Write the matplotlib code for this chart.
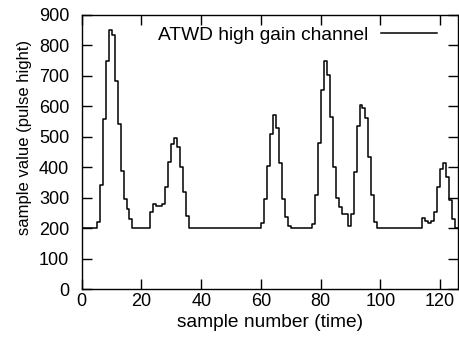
import matplotlib
matplotlib.use("Agg")
import matplotlib.pyplot as plt

plt.rcParams['font.family'] = ['Liberation Sans', 'DejaVu Sans']

# ATWD Samples (Wert pro Sample-Nummer)
sample_values = [
    200, 200, 200, 200, 200, 220, 342, 560, 750, 850,
    834, 684, 541, 389, 295, 262, 230, 200, 200, 200,
    200, 200, 200, 254, 280, 273, 272, 280, 335, 418,
    476, 496, 467, 400, 320, 240, 200, 200, 200, 200,
    200, 200, 200, 200, 200, 200, 200, 200, 200, 200,
    200, 200, 200, 200, 200, 200, 200, 200, 200, 200,
    216, 295, 404, 509, 571, 530, 413, 295, 238, 207,
    200, 200, 200, 200, 200, 200, 200, 214, 309, 481,
    653, 750, 703, 566, 402, 298, 269, 247, 247, 208,
    247, 386, 536, 605, 593, 561, 433, 309, 222, 200,
    200, 200, 200, 200, 200, 200, 200, 200, 200, 200,
    200, 200, 200, 200, 233, 225, 216, 225, 254, 334,
    394, 413, 369, 293, 229, 200, 200, 200,
]
sample_numbers = list(range(len(sample_values)))

x_ticks = [0, 20, 40, 60, 80, 100, 120]
y_ticks = [0, 100, 200, 300, 400, 500, 600, 700, 800, 900]

fig = plt.figure(figsize=(4.59, 3.38), dpi=100)
ax = fig.add_axes([0.178, 0.144, 0.820, 0.812])

ax.step(sample_numbers, sample_values, where='post', color='black', lw=1.1,
        label='ATWD high gain channel')

ax.set_xlim(0, 126)
ax.set_ylim(0, 900)
ax.set_xticks(x_ticks)
ax.set_yticks(y_ticks)
ax.tick_params(direction='in', length=7, width=1, top=True, right=True,
               labelsize=13)
ax.tick_params(axis='x', pad=2.7)
ax.tick_params(axis='y', pad=9)
for s in ax.spines.values():
    s.set_linewidth(1)

ax.set_xlabel("sample number (time)", fontsize=13.8, labelpad=3)
ax.set_ylabel("sample value (pulse hight)", fontsize=12)
ax.yaxis.set_label_coords(-0.133, 0.553)

ax.legend(loc='upper right', bbox_to_anchor=(0.944, 0.958), frameon=False,
          markerfirst=False, handlelength=2.9, handletextpad=0.68,
          borderaxespad=0, borderpad=0, fontsize=13.8)

fig.savefig("out.png", dpi=100)
